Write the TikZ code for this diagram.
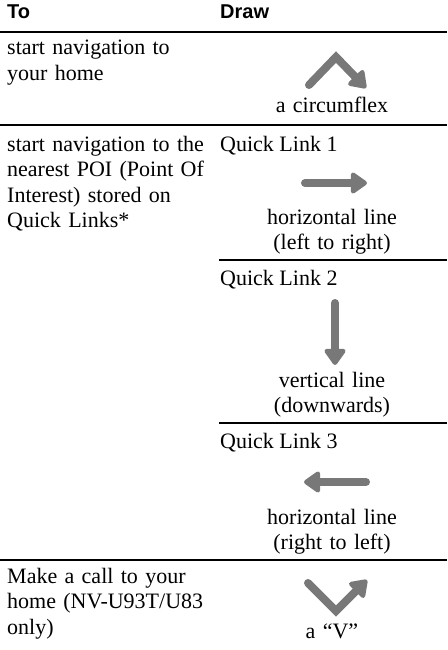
\documentclass[tikz,border=0pt]{standalone}
\usepackage{fontspec}
\setmainfont{Liberation Serif}
\setsansfont{Liberation Sans}
\usepackage{xcolor}
\usetikzlibrary{arrows.meta}

\definecolor{gesturegray}{RGB}{120,120,120}

\begin{document}
\begin{tikzpicture}[x=1pt,y=-1pt,
    header/.style={anchor=base west,
                   inner sep=0pt,
                   font=\sffamily\bfseries\fontsize{20}{24}\selectfont},
    todo/.style={anchor=base west,
                 inner sep=0pt,
                 text width=212pt,
                 align=left,
                 font=\fontsize{22}{25.5}\selectfont},
    link/.style={anchor=base west,
                 inner sep=0pt,
                 font=\fontsize{22}{25.5}\selectfont},
    caption/.style={anchor=base,
                    inner sep=0pt,
                    text width=220pt,
                    align=center,
                    font=\fontsize{22}{25}\selectfont},
    rule/.style={line width=2.5pt},
    gesture/.style={draw=gesturegray,
                    line width=8pt,
                    line cap=round,
                    -{Triangle[length=18pt,width=24pt,round]}}]

    \useasboundingbox (0,0) rectangle (447,650);

    % header
    \node[header] (to) at (7,19) {To};
    \node[header] (draw) at (220,19) {Draw};
    \draw[rule] (0,32) -- (447,32);

    % home
    \node[todo] (home) at (7,55) {start navigation to\\your home};
    \coordinate (circA) at (309,85);
    \coordinate (circB) at (336,57);
    \coordinate (circC) at (366,88);
    \draw[gesture] (circA) -- (circB) -- (circC);
    \node[caption] (circ) at (332,113) {a circumflex};
    \draw[rule] (0,125) -- (447,125);

    % quick links
    \node[todo] (poi) at (7,151) {start navigation to the\\nearest POI (Point Of\\Interest) stored on\\Quick Links*};

    \node[link] (ql1) at (220,151) {Quick Link 1};
    \coordinate (rightA) at (305,183);
    \coordinate (rightB) at (367,183);
    \draw[gesture] (rightA) -- (rightB);
    \node[caption] (ql1cap) at (332,224) {horizontal line\\(left to right)};
    \draw[rule] (219,260) -- (447,260);

    \node[link] (ql2) at (220,285) {Quick Link 2};
    \coordinate (downA) at (335,303);
    \coordinate (downB) at (335,365);
    \draw[gesture] (downA) -- (downB);
    \node[caption] (ql2cap) at (332,387) {vertical line\\(downwards)};
    \draw[rule] (219,423) -- (447,423);

    \node[link] (ql3) at (220,448) {Quick Link 3};
    \coordinate (leftA) at (366,482);
    \coordinate (leftB) at (304,482);
    \draw[gesture] (leftA) -- (leftB);
    \node[caption] (ql3cap) at (332,524) {horizontal line\\(right to left)};
    \draw[rule] (0,560) -- (447,560);

    % call home
    \node[todo] (call) at (7,583) {Make a call to your\\home (NV-U93T/U83\\only)};
    \coordinate (vA) at (308,583);
    \coordinate (vB) at (336,611);
    \coordinate (vC) at (367,580);
    \draw[gesture] (vA) -- (vB) -- (vC);
    \node[caption] (vcap) at (332,638) {a ``V''};

\end{tikzpicture}
\end{document}
